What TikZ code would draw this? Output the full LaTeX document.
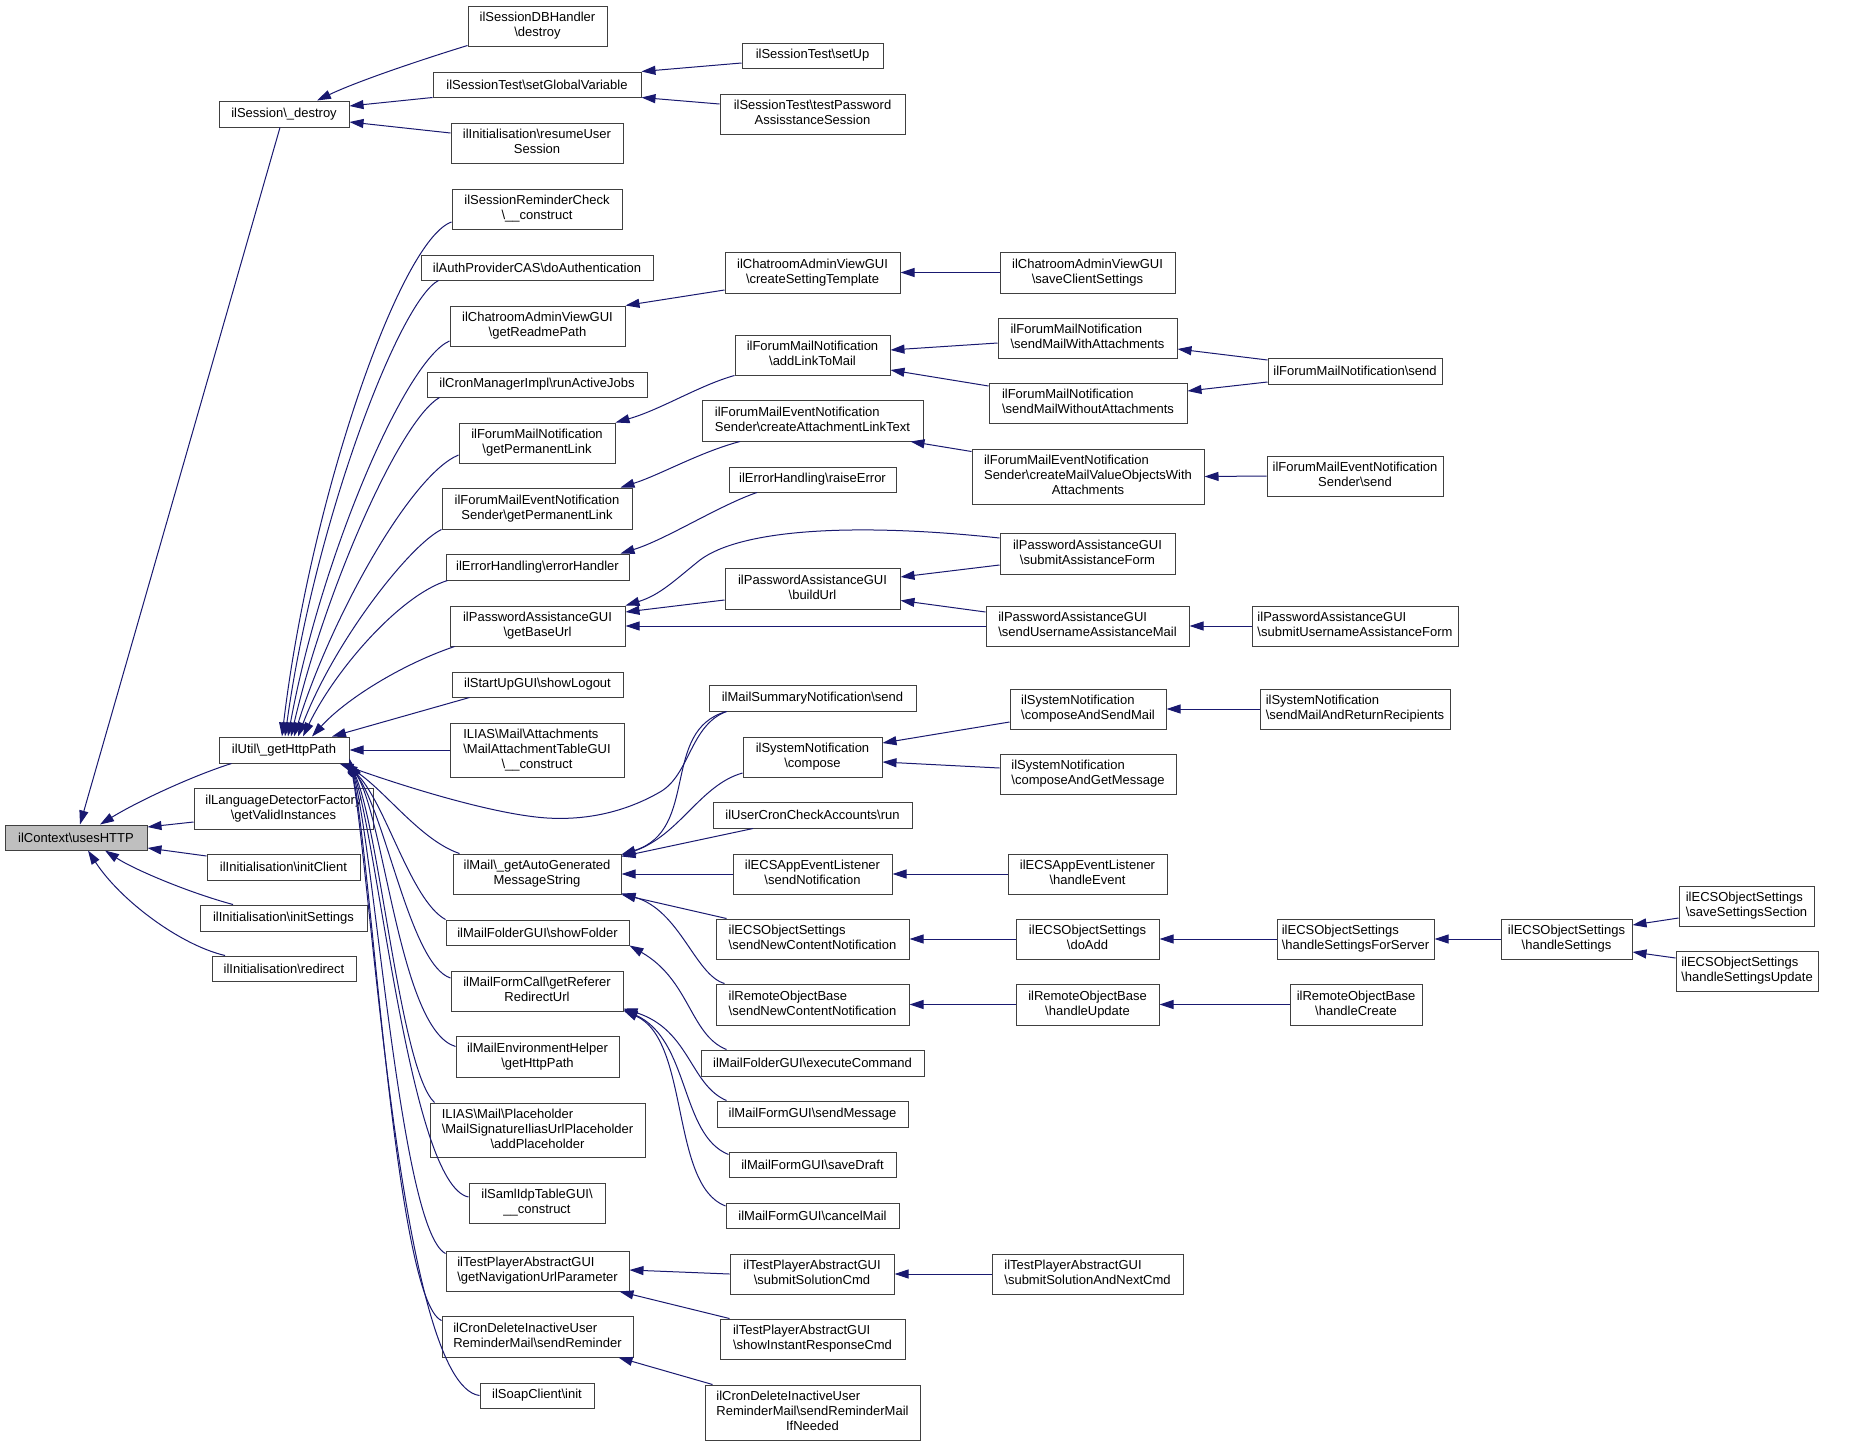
\documentclass[tikz,border=0pt]{standalone}
\usepackage{fontspec}
\setmainfont{Liberation Sans}
\usetikzlibrary{arrows.meta}
\definecolor{edgec}{HTML}{191970}
\definecolor{grey25}{HTML}{404040}
\definecolor{grey75}{HTML}{BFBFBF}
\newcommand{\bsl}{\textbackslash}
\newcommand{\twol}[2]{\begin{tabular}{@{}l@{}}#1\\\multicolumn{1}{@{}c@{}}{#2}\end{tabular}}
\newcommand{\bx}[7][]{\node[nodebox,#1,minimum width={#5-#3},minimum height={#6-#4}] (#2) at ({(#3+#5)/2},{(#4+#6)/2}) {#7};}
\tikzset{
  nodebox/.style={draw=grey25, fill=white, line width=1pt, inner sep=0pt, font=\fontsize{13}{15}\selectfont},
  calls/.style={draw=edgec, line width=1pt, -{Triangle[length=14pt,width=9pt]}}
}
\begin{document}
\begin{tikzpicture}[x=1pt,y=-1pt]
\useasboundingbox (0,0) rectangle (1871,1446);
\fill[white] (0,0) rectangle (1871,1446);
% column 0
\bx[fill=grey75]{root}{5}{825}{147}{850}{ilContext\bsl usesHTTP}
% column 1
\bx{sdestroy}{219}{101}{349}{127}{ilSession\bsl\_destroy}
\bx{http}{219}{737}{349}{763}{ilUtil\bsl\_getHttpPath}
\bx{langdet}{194}{788}{373}{829}{\twol{ilLanguageDetectorFactory}{\bsl getValidInstances}}
\bx{initclient}{207}{854}{360}{880}{ilInitialisation\bsl initClient}
\bx{initsettings}{200}{905}{367}{931}{ilInitialisation\bsl initSettings}
\bx{redirect}{212}{956}{356}{981}{ilInitialisation\bsl redirect}
% column 2
\bx{sdb}{468}{6}{607}{46}{\twol{ilSessionDBHandler}{\bsl destroy}}
\bx{setgv}{433}{72}{641}{97}{ilSessionTest\bsl setGlobalVariable}
\bx{resume}{451}{123}{623}{163}{\twol{ilInitialisation\bsl resumeUser}{Session}}
\bx{src}{452}{189}{622}{229}{\twol{ilSessionReminderCheck}{\bsl\_\_construct}}
\bx{auth}{421}{255}{653}{280}{ilAuthProviderCAS\bsl doAuthentication}
\bx{readme}{450}{306}{625}{346}{\twol{ilChatroomAdminViewGUI}{\bsl getReadmePath}}
\bx{cron}{427}{372}{647}{397}{ilCronManagerImpl\bsl runActiveJobs}
\bx{fmngpl}{459}{423}{615}{463}{\twol{ilForumMailNotification}{\bsl getPermanentLink}}
\bx{fmensgpl}{442}{488}{632}{529}{\twol{ilForumMailEventNotification}{Sender\bsl getPermanentLink}}
\bx{errh}{446}{554}{629}{580}{ilErrorHandling\bsl errorHandler}
\bx{gbu}{450}{606}{625}{646}{\twol{ilPasswordAssistanceGUI}{\bsl getBaseUrl}}
\bx{logout}{452}{672}{623}{697}{ilStartUpGUI\bsl showLogout}
\bx{matg}{450}{723}{624}{777}{\twol{ILIAS\bsl Mail\bsl Attachments\\\bsl MailAttachmentTableGUI}{\bsl\_\_construct}}
\bx{mailauto}{453}{854}{621}{894}{\twol{ilMail\bsl\_getAutoGenerated}{MessageString}}
\bx{showfolder}{446}{920}{629}{945}{ilMailFolderGUI\bsl showFolder}
\bx{mfc}{451}{971}{623}{1011}{\twol{ilMailFormCall\bsl getReferer}{RedirectUrl}}
\bx{meh}{456}{1036}{619}{1077}{\twol{ilMailEnvironmentHelper}{\bsl getHttpPath}}
\bx{ph}{430}{1103}{645}{1157}{\twol{ILIAS\bsl Mail\bsl Placeholder\\\bsl MailSignatureIliasUrlPlaceholder}{\bsl addPlaceholder}}
\bx{saml}{469}{1183}{605}{1223}{\twol{ilSamlIdpTableGUI\bsl}{\_\_construct}}
\bx{gnup}{446}{1251}{629}{1291}{\twol{ilTestPlayerAbstractGUI}{\bsl getNavigationUrlParameter}}
\bx{sendrem}{442}{1316}{633}{1357}{\twol{ilCronDeleteInactiveUser}{ReminderMail\bsl sendReminder}}
\bx{soap}{480}{1383}{594}{1408}{ilSoapClient\bsl init}
% column 3
\bx{setup}{742}{43}{883}{68}{ilSessionTest\bsl setUp}
\bx{testpw}{720}{94}{905}{134}{\twol{ilSessionTest\bsl testPassword}{AssisstanceSession}}
\bx{cst}{725}{252}{900}{293}{\twol{ilChatroomAdminViewGUI}{\bsl createSettingTemplate}}
\bx{addlink}{735}{335}{890}{375}{\twol{ilForumMailNotification}{\bsl addLinkToMail}}
\bx{calt}{702}{400}{923}{441}{\twol{ilForumMailEventNotification}{Sender\bsl createAttachmentLinkText}}
\bx{raise}{729}{467}{896}{492}{ilErrorHandling\bsl raiseError}
\bx{buildurl}{725}{568}{900}{609}{\twol{ilPasswordAssistanceGUI}{\bsl buildUrl}}
\bx{msn}{709}{685}{916}{711}{ilMailSummaryNotification\bsl send}
\bx{compose}{743}{737}{882}{777}{\twol{ilSystemNotification}{\bsl compose}}
\bx{ucca}{713}{802}{912}{828}{ilUserCronCheckAccounts\bsl run}
\bx{ecsnotif}{733}{854}{892}{894}{\twol{ilECSAppEventListener}{\bsl sendNotification}}
\bx{ecssncn}{716}{919}{909}{959}{\twol{ilECSObjectSettings}{\bsl sendNewContentNotification}}
\bx{robsncn}{716}{984}{909}{1025}{\twol{ilRemoteObjectBase}{\bsl sendNewContentNotification}}
\bx{exec}{701}{1050}{924}{1076}{ilMailFolderGUI\bsl executeCommand}
\bx{sendmsg}{717}{1101}{908}{1127}{ilMailFormGUI\bsl sendMessage}
\bx{savedraft}{729}{1152}{896}{1177}{ilMailFormGUI\bsl saveDraft}
\bx{cancel}{726}{1203}{899}{1228}{ilMailFormGUI\bsl cancelMail}
\bx{ssc}{730}{1254}{894}{1294}{\twol{ilTestPlayerAbstractGUI}{\bsl submitSolutionCmd}}
\bx{sirc}{720}{1319}{905}{1359}{\twol{ilTestPlayerAbstractGUI}{\bsl showInstantResponseCmd}}
\bx{srmin}{705}{1385}{920}{1440}{\twol{ilCronDeleteInactiveUser\\ReminderMail\bsl sendReminderMail}{IfNeeded}}
% column 4
\bx{savecs}{1000}{252}{1175}{293}{\twol{ilChatroomAdminViewGUI}{\bsl saveClientSettings}}
\bx{smwa}{998}{318}{1177}{358}{\twol{ilForumMailNotification}{\bsl sendMailWithAttachments}}
\bx{smwoa}{989}{383}{1187}{423}{\twol{ilForumMailNotification}{\bsl sendMailWithoutAttachments}}
\bx{cmvo}{972}{449}{1204}{504}{\twol{ilForumMailEventNotification\\Sender\bsl createMailValueObjectsWith}{Attachments}}
\bx{saf}{1000}{533}{1175}{574}{\twol{ilPasswordAssistanceGUI}{\bsl submitAssistanceForm}}
\bx{suam}{986}{606}{1189}{646}{\twol{ilPasswordAssistanceGUI}{\bsl sendUsernameAssistanceMail}}
\bx{casm}{1010}{689}{1166}{729}{\twol{ilSystemNotification}{\bsl composeAndSendMail}}
\bx{cagm}{1000}{754}{1176}{794}{\twol{ilSystemNotification}{\bsl composeAndGetMessage}}
\bx{handleevent}{1008}{854}{1167}{894}{\twol{ilECSAppEventListener}{\bsl handleEvent}}
\bx{doadd}{1016}{919}{1159}{959}{\twol{ilECSObjectSettings}{\bsl doAdd}}
\bx{hupd}{1016}{984}{1159}{1025}{\twol{ilRemoteObjectBase}{\bsl handleUpdate}}
\bx{ssanc}{992}{1254}{1183}{1294}{\twol{ilTestPlayerAbstractGUI}{\bsl submitSolutionAndNextCmd}}
% column 5
\bx{fmnsend}{1268}{358}{1442}{384}{ilForumMailNotification\bsl send}
\bx{fmenssend}{1267}{456}{1443}{496}{\twol{ilForumMailEventNotification}{Sender\bsl send}}
\bx{suaf}{1252}{606}{1458}{646}{\twol{ilPasswordAssistanceGUI}{\bsl submitUsernameAssistanceForm}}
\bx{smarr}{1260}{689}{1450}{729}{\twol{ilSystemNotification}{\bsl sendMailAndReturnRecipients}}
\bx{hsfs}{1277}{919}{1434}{959}{\twol{ilECSObjectSettings}{\bsl handleSettingsForServer}}
\bx{hcreate}{1290}{984}{1422}{1025}{\twol{ilRemoteObjectBase}{\bsl handleCreate}}
% column 6,7
\bx{hs}{1501}{919}{1632}{959}{\twol{ilECSObjectSettings}{\bsl handleSettings}}
\bx{sss}{1679}{886}{1814}{926}{\twol{ilECSObjectSettings}{\bsl saveSettingsSection}}
\bx{hsu}{1676}{951}{1818}{991}{\twol{ilECSObjectSettings}{\bsl handleSettingsUpdate}}

% ---- edges into root
\draw[calls] ([xshift=-4pt]sdestroy.south) -- ([xshift=4pt]root.north);
\draw[calls] ([xshift=13pt]http.south west) .. controls (195,775) and (140,800) .. ([xshift=24pt]root.north);
\draw[calls] ([yshift=-13.5pt]langdet.west) -- ([yshift=10.5pt]root.east);
\draw[calls] ([yshift=11pt]initclient.west) -- ([yshift=-10.5pt]root.east);
\draw[calls] ([xshift=-50.5pt]initsettings.north) .. controls (190,893) and (135,870) .. ([xshift=29pt]root.south);
\draw[calls] ([xshift=-59pt]redirect.north) .. controls (180,945) and (120,900) .. ([xshift=12pt]root.south);
% ---- into ilSession destroy
\draw[calls] ([yshift=1pt]sdb.south west) .. controls (430,57) and (360,80) .. ([xshift=33pt]sdestroy.north);
\draw[calls] (setgv.south west) -- ([yshift=8pt]sdestroy.east);
\draw[calls] ([yshift=10pt]resume.west) -- ([yshift=-8pt]sdestroy.east);
\draw[calls] ([yshift=-7.5pt]setup.west) -- (setgv.north east);
\draw[calls] ([yshift=10pt]testpw.west) -- (setgv.south east);
% ---- chatroom
\draw[calls] ([yshift=-17.5pt]cst.west) -- (readme.north east);
\draw[calls] (savecs.west) -- (cst.east);
% ---- forum mail notification
\draw[calls] (addlink.south west) .. controls (700,385) and (660,410) .. (fmngpl.north east);
\draw[calls] ([yshift=-5pt]smwa.west) -- ([yshift=5pt]addlink.east);
\draw[calls] ([yshift=17pt]smwoa.west) -- ([yshift=-15pt]addlink.east);
\draw[calls] ([yshift=11pt]fmnsend.west) -- ([yshift=-11pt]smwa.east);
\draw[calls] ([yshift=-11pt]fmnsend.west) -- ([yshift=12pt]smwoa.east);
% ---- forum mail event notification
\draw[calls] ([xshift=-72.5pt]calt.south) .. controls (700,452) and (660,475) .. ([xshift=-12pt]fmensgpl.north east);
\draw[calls] ([yshift=-3pt]cmvo.north west) -- ([xshift=-13pt]calt.south east);
\draw[calls] (fmenssend.west) -- (cmvo.east);
% ---- error handling
\draw[calls] ([xshift=-55.5pt]raise.south) .. controls (720,505) and (665,540) .. ([xshift=-9pt]errh.north east);
% ---- password assistance
\draw[calls] ([yshift=15.5pt]saf.west) .. controls (850,522) and (740,530) .. (700,560) .. controls (675,580) and (660,595) .. (gbu.north east);
\draw[calls] ([yshift=-11.5pt]buildurl.west) -- ([yshift=14pt]gbu.east);
\draw[calls] (suam.west) -- (gbu.east);
\draw[calls] ([yshift=-11.5pt]saf.west) -- ([yshift=11.5pt]buildurl.east);
\draw[calls] ([yshift=14pt]suam.west) -- ([yshift=-12pt]buildurl.east);
\draw[calls] (suaf.west) -- (suam.east);
% ---- ilMail getAutoGenerated
\draw[calls] ([xshift=18pt]msn.south west) .. controls (660,730) and (700,830) .. ([yshift=-1pt]mailauto.north east);
\draw[calls] ([yshift=-16pt]compose.west) .. controls (700,785) and (680,835) .. ([yshift=-2pt]mailauto.north east);
\draw[calls] ([xshift=-59.5pt]ucca.south) -- ([yshift=-3pt]mailauto.north east);
\draw[calls] (ecsnotif.west) -- (mailauto.east);
\draw[calls] ([xshift=11pt]ecssncn.north west) -- (mailauto.south east);
\draw[calls] ([xshift=9pt]robsncn.north west) .. controls (695,975) and (680,910) .. ([yshift=1pt]mailauto.south east);
\draw[calls] ([yshift=-13pt]casm.west) -- ([yshift=14pt]compose.east);
\draw[calls] ([yshift=6pt]cagm.west) -- ([yshift=-5pt]compose.east);
\draw[calls] (smarr.west) -- (casm.east);
\draw[calls] (handleevent.west) -- (ecsnotif.east);
\draw[calls] (doadd.west) -- (ecssncn.east);
\draw[calls] (hsfs.west) -- (doadd.east);
\draw[calls] (hs.west) -- (hsfs.east);
\draw[calls] ([yshift=-12pt]sss.west) -- ([yshift=14pt]hs.east);
\draw[calls] ([yshift=13pt]hsu.west) -- ([yshift=-13pt]hs.east);
\draw[calls] (hupd.west) -- (robsncn.east);
\draw[calls] (hcreate.west) -- (hupd.east);
% ---- mail folder / form
\draw[calls] ([xshift=26pt]exec.north west) .. controls (690,1035) and (690,980) .. (showfolder.south east);
\draw[calls] ([xshift=10pt]sendmsg.north west) .. controls (690,1085) and (690,1030) .. ([yshift=3pt]mfc.south east);
\draw[calls] ([yshift=10pt]savedraft.west) .. controls (680,1135) and (690,1040) .. ([yshift=2pt]mfc.south east);
\draw[calls] ([yshift=9.5pt]cancel.west) .. controls (670,1185) and (690,1040) .. ([yshift=1pt]mfc.south east);
% ---- test player / cron
\draw[calls] (ssc.west) -- ([yshift=1pt]gnup.east);
\draw[calls] ([xshift=10pt]sirc.north west) -- ([xshift=-10pt]gnup.south east);
\draw[calls] (ssanc.west) -- (ssc.east);
\draw[calls] ([xshift=8pt]srmin.north west) -- ([xshift=-15pt]sendrem.south east);
% ---- into ilUtil getHttpPath, from above
\draw[calls] ([yshift=-13pt]src.west) .. controls (400,240) and (310,500) .. ([xshift=-2pt]http.north);
\draw[calls] ([xshift=18pt]auth.south west) .. controls (400,300) and (315,520) .. ([xshift=1pt]http.north);
\draw[calls] ([yshift=-15pt]readme.west) .. controls (405,360) and (320,560) .. ([xshift=4pt]http.north);
\draw[calls] ([xshift=13pt]cron.south west) .. controls (400,420) and (325,590) .. ([xshift=7pt]http.north);
\draw[calls] ([yshift=-12pt]fmngpl.west) .. controls (410,475) and (330,620) .. ([xshift=10pt]http.north);
\draw[calls] (fmensgpl.south west) .. controls (410,545) and (335,640) .. ([xshift=14pt]http.north);
\draw[calls] ([xshift=2pt]errh.south west) .. controls (400,595) and (335,670) .. ([xshift=19pt]http.north);
\draw[calls] ([xshift=5pt]gbu.south west) .. controls (400,665) and (345,700) .. ([xshift=28pt]http.north);
\draw[calls] ([xshift=18pt]logout.south west) -- ([xshift=48pt]http.north);
\draw[calls] (matg.west) -- (http.east);
\draw[calls] ([xshift=18pt]msn.south west) .. controls (690,725) and (690,775) .. (660,792) .. controls (620,815) and (580,820) .. (547,818) .. controls (500,815) and (420,792) .. ([xshift=-10pt]http.south east);
% ---- into ilUtil getHttpPath, from below
\draw[calls] ([xshift=7pt]mailauto.north west) .. controls (420,840) and (385,790) .. ([xshift=-6pt]http.south east);
\draw[calls] (showfolder.north west) .. controls (410,900) and (385,800) .. ([xshift=-4pt]http.south east);
\draw[calls] ([yshift=13pt]mfc.west) .. controls (410,965) and (385,810) .. ([xshift=-2pt]http.south east);
\draw[calls] ([yshift=10pt]meh.west) .. controls (400,1030) and (385,820) .. (http.south east);
\draw[calls] ([xshift=5pt]ph.north west) .. controls (400,1070) and (380,830) .. ([yshift=1pt]http.south east);
\draw[calls] ([yshift=6pt]saml.west) .. controls (410,1185) and (378,840) .. ([yshift=2pt]http.south east);
\draw[calls] ([yshift=-3pt]gnup.north west) .. controls (400,1230) and (375,850) .. ([yshift=3pt]http.south east);
\draw[calls] ([yshift=-5pt]sendrem.north west) .. controls (395,1300) and (372,860) .. ([yshift=4pt]http.south east);
\draw[calls] (soap.west) .. controls (400,1385) and (372,880) .. ([yshift=5pt]http.south east);
\end{tikzpicture}
\end{document}
